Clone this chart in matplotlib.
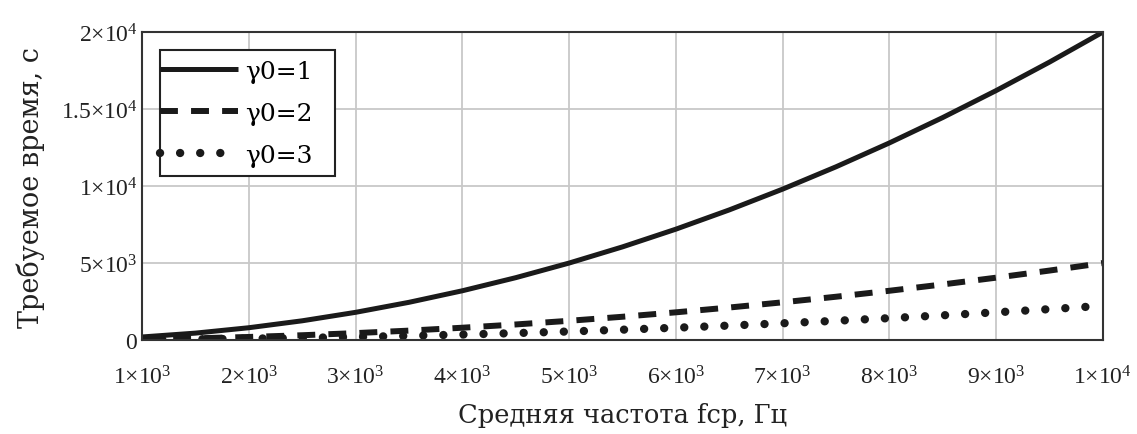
import matplotlib
matplotlib.use("Agg")
import matplotlib.pyplot as plt
from matplotlib.patches import Rectangle
from matplotlib.ticker import FixedLocator, FixedFormatter

plt.rcParams['font.family'] = ['Liberation Serif', 'DejaVu Serif']
plt.rcParams['mathtext.fontset'] = 'custom'
plt.rcParams['mathtext.rm'] = 'Liberation Serif'
plt.rcParams['mathtext.it'] = 'Liberation Serif:italic'

# частота, Гц
freq = [1000, 1500, 2000, 2500, 3000, 3500, 4000, 4500, 5000, 5500,
        6000, 6500, 7000, 7500, 8000, 8500, 9000, 9500, 10000]
# требуемое время, с
t_g1 = [200, 450, 800, 1250, 1800, 2450, 3200, 4050, 5000, 6050,
        7200, 8450, 9800, 11250, 12800, 14450, 16200, 18050, 20000]
t_g2 = [50, 112, 200, 312, 450, 612, 800, 1012, 1250, 1512,
        1800, 2112, 2450, 2812, 3200, 3612, 4050, 4512, 5000]
t_g3 = [22, 50, 89, 139, 200, 272, 356, 450, 556, 672,
        800, 939, 1089, 1250, 1422, 1606, 1800, 2006, 2222]

xticks = [1000, 2000, 3000, 4000, 5000, 6000, 7000, 8000, 9000, 10000]
xlabels = [r'$1{\times}10^{3}$', r'$2{\times}10^{3}$', r'$3{\times}10^{3}$',
           r'$4{\times}10^{3}$', r'$5{\times}10^{3}$', r'$6{\times}10^{3}$',
           r'$7{\times}10^{3}$', r'$8{\times}10^{3}$', r'$9{\times}10^{3}$',
           r'$1{\times}10^{4}$']
yticks = [0, 5000, 10000, 15000, 20000]
ylabels = [r'$0$', r'$5{\times}10^{3}$', r'$1{\times}10^{4}$',
           r'$1.5{\times}10^{4}$', r'$2{\times}10^{4}$']

fig = plt.figure(figsize=(11.37, 4.35), dpi=100)
ax = fig.add_axes([0.125, 0.216, 0.845, 0.708])

ax.plot(freq, t_g1, color='#1a1a1a', lw=3.6, solid_capstyle='butt', label='γ0=1')
ax.plot(freq, t_g2, color='#1a1a1a', lw=4.3, linestyle=(0, (3.0, 2.2)),
        dash_capstyle='butt', label='γ0=2')
ax.plot(freq, t_g3, color='#1a1a1a', lw=6.0, linestyle=(0, (0.01, 2.4)),
        dash_capstyle='round', label='γ0=3')

ax.set_xlim(1000, 10000)
ax.set_ylim(0, 20000)
ax.xaxis.set_major_locator(FixedLocator(xticks))
ax.xaxis.set_major_formatter(FixedFormatter(xlabels))
ax.yaxis.set_major_locator(FixedLocator(yticks))
ax.yaxis.set_major_formatter(FixedFormatter(ylabels))
ax.tick_params(length=0, labelsize=17, colors='#222222')
ax.tick_params(axis='x', pad=18)
ax.tick_params(axis='y', pad=3)
ax.grid(True, color='#c8c8c8', lw=1.3)
ax.set_axisbelow(True)
for s in ax.spines.values():
    s.set_color('#333333')
    s.set_linewidth(1.5)

ax.set_xlabel('Средняя частота fср, Гц', fontsize=18.5, family='DejaVu Serif',
              color='#222222', labelpad=10)
ax.set_ylabel('Требуемое время, с', fontsize=19.5, family='DejaVu Serif',
              color='#222222', labelpad=12)

# рамка легенды
ax.add_patch(Rectangle((0.0187, 0.5325), 0.1821, 0.4091, transform=ax.transAxes,
                       facecolor='white', edgecolor='#222222', lw=1.5, zorder=4))
leg = ax.legend(loc='upper left', bbox_to_anchor=(0.0083, 0.9416),
                prop={'family': 'DejaVu Serif', 'size': 18},
                handlelength=3.1, handletextpad=0.3, borderpad=0.4,
                labelspacing=0.75, frameon=False, borderaxespad=0)
leg.set_zorder(5)

fig.savefig('out.png', dpi=100)
